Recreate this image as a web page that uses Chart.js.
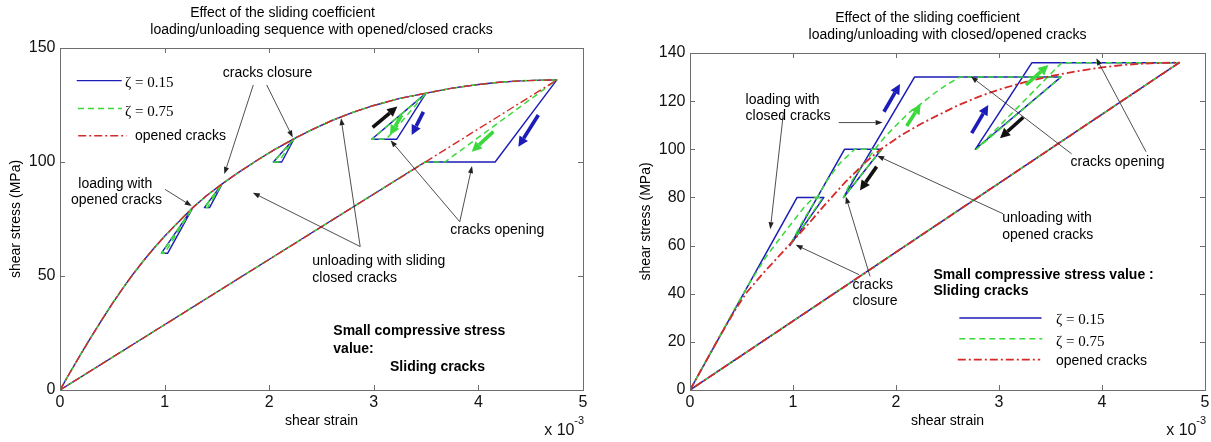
<!DOCTYPE html>
<html>
<head>
<meta charset="utf-8">
<script src="https://cdn.jsdelivr.net/npm/chart.js@4.4.1/dist/chart.umd.min.js"></script>
<style>
  html, body { margin: 0; padding: 0; background: #fff; }
  #wrap { position: relative; width: 1211px; height: 442px; background: #fff; }
  canvas { position: absolute; top: 0; }
  #left { left: 0; }
  #right { left: 600px; }
</style>
</head>
<body>
<div id="wrap">
  <canvas id="left" width="600" height="442"></canvas>
  <canvas id="right" width="611" height="442"></canvas>
</div>
<script>
// ticks (strain in 1e-3, stress in MPa)
const xTicks = [0, 1, 2, 3, 4, 5];
const leftYTicks = [0, 50, 100, 150];
const rightYTicks = [0, 20, 40, 60, 80, 100, 120, 140];

// left panel: loading/unloading sequence with opened/closed cracks
const leftBlueX = [0, 0.1, 0.2, 0.3, 0.4, 0.5, 0.6, 0.7, 0.8, 0.9, 1.0, 1.1, 1.27, 1.03, 0.97, 1.27, 1.4, 1.55, 1.43, 1.38, 1.55, 1.7, 1.9, 2.05, 2.24, 2.12, 2.04, 2.24, 2.4, 2.6, 2.8, 3.0, 3.25, 3.5, 3.22, 2.98, 3.5, 3.75, 4.0, 4.2, 4.4, 4.6, 4.75, 4.16, 3.49, 0];
const leftBlueY = [0, 8, 15.8, 23.4, 30.8, 37.9, 44.6, 50.9, 56.8, 62.3, 67.4, 72.2, 80, 60, 60, 80, 85.2, 90.4, 80, 80, 90.4, 95.2, 101.2, 105.4, 110.3, 100, 100, 110.3, 114, 118.2, 121.8, 124.8, 127.9, 130.2, 110, 110, 130.2, 132.4, 134, 135, 135.6, 135.9, 136, 100, 100, 0];
const leftGreenX = [0, 0.1, 0.2, 0.3, 0.4, 0.5, 0.6, 0.7, 0.8, 0.9, 1.0, 1.1, 1.27, 1.0, 0.97, 1.27, 1.4, 1.55, 1.41, 1.38, 1.55, 1.7, 1.9, 2.05, 2.24, 2.09, 2.04, 2.24, 2.4, 2.6, 2.8, 3.0, 3.25, 3.5, 3.12, 2.98, 3.5, 3.75, 4.0, 4.2, 4.4, 4.6, 4.75, 3.68, 3.49, 0];
const leftGreenY = [0, 8, 15.8, 23.4, 30.8, 37.9, 44.6, 50.9, 56.8, 62.3, 67.4, 72.2, 80, 60, 60, 80, 85.2, 90.4, 80, 80, 90.4, 95.2, 101.2, 105.4, 110.3, 100, 100, 110.3, 114, 118.2, 121.8, 124.8, 127.9, 130.2, 110, 110, 130.2, 132.4, 134, 135, 135.6, 135.9, 136, 100, 100, 0];
const leftRedX = [0, 0.1, 0.2, 0.3, 0.4, 0.5, 0.6, 0.7, 0.8, 0.9, 1.0, 1.1, 1.27, 1.4, 1.55, 1.7, 1.9, 2.05, 2.24, 2.4, 2.6, 2.8, 3.0, 3.25, 3.5, 3.75, 4.0, 4.2, 4.4, 4.6, 4.75, 0];
const leftRedY = [0, 8, 15.8, 23.4, 30.8, 37.9, 44.6, 50.9, 56.8, 62.3, 67.4, 72.2, 80, 85.2, 90.4, 95.2, 101.2, 105.4, 110.3, 114, 118.2, 121.8, 124.8, 127.9, 130.2, 132.4, 134, 135, 135.6, 135.9, 136, 0];

// right panel: loading/unloading with closed/opened cracks
const rightBlueX = [0, 1.04, 1.30, 0.97, 1.50, 1.86, 1.49, 2.18, 3.60, 2.77, 3.32, 4.75, 0];
const rightBlueY = [0, 80, 80, 60, 100, 100, 80, 130, 130, 100, 136, 136, 0];
const rightGreenX = [0, 0.45, 0.6, 0.75, 0.9, 1.0, 1.1, 1.2, 1.29, 0.97, 1.06, 1.15, 1.24, 1.33, 1.45, 1.6, 1.86, 1.49, 1.55, 1.62, 1.69, 1.76, 1.83, 1.9, 1.98, 2.05, 2.12, 2.2, 2.29, 2.38, 2.5, 2.62, 3.6, 2.78, 3.61, 4.75, 0];
const rightGreenY = [0, 35, 46, 56, 64.5, 70, 75.5, 80, 80, 60, 67.5, 74, 80.5, 87, 94, 100, 100, 80, 85.5, 90, 94, 98, 102, 105.5, 109, 112, 115, 117.5, 120.5, 123.5, 127, 130, 130, 100, 136, 136, 0];
const rightRedX = [0, 0.3, 0.45, 0.55, 0.7, 0.85, 1.0, 1.15, 1.3, 1.5, 1.7, 1.85, 2.05, 2.24, 2.4, 2.6, 2.8, 3.0, 3.25, 3.5, 3.75, 4.0, 4.2, 4.4, 4.6, 4.75, 0];
const rightRedY = [0, 23.1, 34, 40.5, 48, 55, 62, 69, 76.5, 86, 94.5, 100, 105.8, 110.5, 114, 118.2, 121.8, 124.8, 127.9, 130.4, 132.4, 134, 135, 135.6, 135.9, 136, 0];

const FONT = '"Liberation Sans", Arial, sans-serif';
const SERIF = '"Liberation Serif", "Times New Roman", serif';
const BLUE = '#1c1cb8';
const GREEN = '#3ad83a';
const RED = '#d42a2a';
const GREEN_DASH = [6, 4];
const RED_DASH = [8, 3, 2, 3];

// annotations, placed in data coordinates
const leftNotes = [
    { t: 'cracks closure', x: 1.556, y: 138.9 },
    { t: 'loading with', x: 0.175, y: 90.4 },
    { t: 'opened cracks', x: 0.105, y: 83.3 },
    { t: 'unloading with sliding', x: 2.412, y: 56.3 },
    { t: 'closed cracks', x: 2.412, y: 49.0 },
    { t: 'cracks opening', x: 3.73, y: 70.2 },
    { t: 'Small compressive stress', x: 2.613, y: 25.6, bold: true },
    { t: 'value:', x: 2.613, y: 17.8, bold: true },
    { t: 'Sliding cracks', x: 3.155, y: 10.2, bold: true }
];
const leftPointers = [
    [1.848, 133.8, 1.571, 94.7], [1.976, 133.8, 2.225, 110.8], [1.004, 88, 1.259, 80.7],
    [2.87, 62.9, 1.844, 86.5], [2.87, 62.9, 2.687, 119.2],
    [3.822, 73.8, 3.16, 109.5], [3.822, 73.8, 3.939, 98.2]
];
const leftBigArrows = [
    { c: '#111', p: [2.989, 115.2, 3.225, 124.3] },
    { c: GREEN, p: [3.267, 120.6, 3.155, 111.8] },
    { c: BLUE, p: [3.474, 122, 3.362, 111.8] },
    { c: GREEN, p: [4.143, 113.3, 3.936, 104.5] },
    { c: BLUE, p: [4.573, 120.6, 4.382, 106.7] }
];
const leftLegend = [
    { t: '\u03b6 = 0.15', x1: 0.16, x2: 0.59, y: 135.7, tx: 0.621, ty: 134.6, c: BLUE, w: 1.4, dash: [], serif: true },
    { t: '\u03b6 = 0.75', x1: 0.172, x2: 0.593, y: 123.5, tx: 0.621, ty: 121.9, c: GREEN, w: 1.5, dash: GREEN_DASH, serif: true },
    { t: 'opened cracks', x1: 0.174, x2: 0.637, y: 111.5, tx: 0.717, ty: 111.5, c: RED, w: 1.5, dash: RED_DASH }
];

const rightNotes = [
    { t: 'loading with', x: 0.54, y: 120.5 },
    { t: 'closed cracks', x: 0.54, y: 113.6 },
    { t: 'cracks', x: 1.577, y: 43.7 },
    { t: 'closure', x: 1.577, y: 36.8 },
    { t: 'unloading with', x: 3.032, y: 71.4 },
    { t: 'opened cracks', x: 3.032, y: 64.5 },
    { t: 'cracks opening', x: 3.694, y: 94.6 },
    { t: 'Small compressive stress value :', x: 2.364, y: 47.9, bold: true },
    { t: 'Sliding cracks', x: 2.364, y: 41.0, bold: true }
];
const rightPointers = [
    [1.444, 111.1, 1.87, 111.1], [0.905, 114.3, 0.78, 66.8],
    [1.642, 47.9, 1.026, 60.3], [1.748, 47.2, 1.513, 80.4],
    [3.04, 73.2, 1.817, 97.3],
    [3.705, 98.1, 2.728, 130.2], [4.427, 99, 3.945, 137.8]
];
const rightBigArrows = [
    { c: BLUE, p: [1.883, 115.6, 2.039, 127.1] },
    { c: GREEN, p: [2.104, 109.7, 2.24, 118.8] },
    { c: '#111', p: [1.812, 92.8, 1.65, 82.9] },
    { c: BLUE, p: [2.735, 106.7, 2.896, 118.4] },
    { c: '#111', p: [3.236, 113.3, 3.01, 104.6] },
    { c: GREEN, p: [3.262, 126.7, 3.479, 135] }
];
const rightLegend = [
    { t: '\u03b6 = 0.15', x1: 2.615, x2: 3.413, y: 29.9, tx: 3.553, ty: 28.9, c: BLUE, w: 1.5, dash: [], serif: true },
    { t: '\u03b6 = 0.75', x1: 2.615, x2: 3.42, y: 21.3, tx: 3.553, ty: 20.0, c: GREEN, w: 1.5, dash: GREEN_DASH, serif: true },
    { t: 'opened cracks', x1: 2.6, x2: 3.4, y: 12.6, tx: 3.553, ty: 11.9, c: RED, w: 1.8, dash: RED_DASH }
];

function points(xs, ys) {
    return xs.map((x, i) => ({ x: x, y: ys[i] }));
}

function lineSet(label, xs, ys, color, width, dash, order) {
    return {
        label: label,
        data: points(xs, ys),
        showLine: true,
        borderColor: color,
        borderWidth: width,
        borderDash: dash,
        borderJoinStyle: 'round',
        pointRadius: 0,
        fill: false,
        tension: 0,
        order: order
    };
}

function arrow(ctx, x1, y1, x2, y2, color, width, headLen, headHalf) {
    const a = Math.atan2(y2 - y1, x2 - x1);
    const bx = x2 - headLen * Math.cos(a);
    const by = y2 - headLen * Math.sin(a);
    ctx.strokeStyle = color;
    ctx.fillStyle = color;
    ctx.lineWidth = width;
    ctx.setLineDash([]);
    ctx.beginPath();
    ctx.moveTo(x1, y1);
    ctx.lineTo(bx, by);
    ctx.stroke();
    ctx.beginPath();
    ctx.moveTo(x2, y2);
    ctx.lineTo(bx + headHalf * Math.sin(a), by - headHalf * Math.cos(a));
    ctx.lineTo(bx - headHalf * Math.sin(a), by + headHalf * Math.cos(a));
    ctx.closePath();
    ctx.fill();
}

function decor(cfg) {
    return {
        id: 'decor',
        afterDatasetsDraw(chart) {
            const ctx = chart.ctx;
            const sx = chart.scales.x, sy = chart.scales.y;
            const X = v => sx.getPixelForValue(v);
            const Y = v => sy.getPixelForValue(v);
            ctx.save();
            // legend inside the axes
            cfg.legend.forEach(k => {
                ctx.strokeStyle = k.c;
                ctx.lineWidth = k.w;
                ctx.setLineDash(k.dash);
                ctx.beginPath();
                ctx.moveTo(X(k.x1), Y(k.y));
                ctx.lineTo(X(k.x2), Y(k.y));
                ctx.stroke();
                ctx.setLineDash([]);
                ctx.fillStyle = '#000';
                ctx.font = k.serif ? '15px ' + SERIF : '14px ' + FONT;
                ctx.textAlign = 'left';
                ctx.textBaseline = 'middle';
                ctx.fillText(k.t, X(k.tx), Y(k.ty));
            });
            // thin pointer arrows
            cfg.pointers.forEach(p => {
                arrow(ctx, X(p[0]), Y(p[1]), X(p[2]), Y(p[3]), '#222', 0.8, 7, 2.6);
            });
            // thick direction arrows
            cfg.bigArrows.forEach(b => {
                arrow(ctx, X(b.p[0]), Y(b.p[1]), X(b.p[2]), Y(b.p[3]), b.c, 3.6, 10, 5);
            });
            // notes
            ctx.fillStyle = '#000';
            ctx.textAlign = 'left';
            ctx.textBaseline = 'middle';
            cfg.notes.forEach(n => {
                ctx.font = (n.bold ? 'bold ' : '') + '14px ' + FONT;
                ctx.fillText(n.t, X(n.x), Y(n.y));
            });
            ctx.restore();
        },
        afterDraw(chart) {
            const ctx = chart.ctx;
            const a = chart.chartArea;
            const sx = chart.scales.x, sy = chart.scales.y;
            ctx.save();
            // axes box and inward ticks
            ctx.strokeStyle = '#6e6e6e';
            ctx.lineWidth = 1;
            ctx.setLineDash([]);
            ctx.strokeRect(Math.round(a.left) + 0.5, Math.round(a.top) + 0.5,
                Math.round(a.right - a.left), Math.round(a.bottom - a.top));
            ctx.beginPath();
            xTicks.forEach(v => {
                const p = Math.round(sx.getPixelForValue(v)) + 0.5;
                ctx.moveTo(p, a.bottom); ctx.lineTo(p, a.bottom - 5);
                ctx.moveTo(p, a.top); ctx.lineTo(p, a.top + 5);
            });
            cfg.yTicks.forEach(v => {
                const p = Math.round(sy.getPixelForValue(v)) + 0.5;
                ctx.moveTo(a.left, p); ctx.lineTo(a.left + 5, p);
                ctx.moveTo(a.right, p); ctx.lineTo(a.right - 5, p);
            });
            ctx.stroke();
            // tick labels
            ctx.fillStyle = '#111';
            ctx.font = '16px ' + FONT;
            ctx.textBaseline = 'middle';
            ctx.textAlign = 'center';
            xTicks.forEach(v => ctx.fillText(String(v), sx.getPixelForValue(v), a.bottom + 13));
            ctx.textAlign = 'right';
            cfg.yTicks.forEach(v => ctx.fillText(String(v), a.left - 4.5, sy.getPixelForValue(v)));
            // exponent
            ctx.font = '11px ' + FONT;
            ctx.fillText('-3', a.right + 1, a.bottom + 31);
            ctx.font = '16px ' + FONT;
            ctx.fillText('x 10', a.right - 8.5, a.bottom + 41);
            // axis titles
            ctx.fillStyle = '#000';
            ctx.font = '14px ' + FONT;
            ctx.textAlign = 'center';
            ctx.fillText('shear strain', (a.left + a.right) / 2, a.bottom + 30.7);
            ctx.save();
            ctx.translate(a.left - 44, (a.top + a.bottom) / 2);
            ctx.rotate(-Math.PI / 2);
            ctx.fillText('shear stress (MPa)', 0, 0);
            ctx.restore();
            // title
            ctx.fillText(cfg.title[0], (a.left + a.right) / 2 + cfg.titleShift, a.top - 34.7);
            ctx.fillText(cfg.title[1], (a.left + a.right) / 2, a.top - 18);
            ctx.restore();
        }
    };
}

function makeChart(id, datasets, yMax, padding, cfg) {
    return new Chart(document.getElementById(id), {
        type: 'scatter',
        data: { datasets: datasets },
        options: {
            responsive: false,
            animation: false,
            events: [],
            layout: { padding: padding },
            plugins: {
                legend: { display: false },
                tooltip: { enabled: false },
                title: { display: false }
            },
            scales: {
                x: { type: 'linear', min: 0, max: 5, display: false },
                y: { type: 'linear', min: 0, max: yMax, display: false }
            }
        },
        plugins: [decor(cfg)]
    });
}

makeChart('left', [
    lineSet('\u03b6 = 0.15', leftBlueX, leftBlueY, BLUE, 1.4, [], 3),
    lineSet('\u03b6 = 0.75', leftGreenX, leftGreenY, GREEN, 1.5, GREEN_DASH, 2),
    lineSet('opened cracks', leftRedX, leftRedY, RED, 1.4, RED_DASH, 1)
], 150, { left: 60, top: 48, right: 17, bottom: 52 }, {
    yTicks: leftYTicks,
    title: ['Effect of the sliding coefficient', 'loading/unloading sequence with opened/closed cracks'],
    titleShift: -39,
    notes: leftNotes,
    pointers: leftPointers,
    bigArrows: leftBigArrows,
    legend: leftLegend
});

makeChart('right', [
    lineSet('\u03b6 = 0.15', rightBlueX, rightBlueY, BLUE, 1.5, [], 3),
    lineSet('\u03b6 = 0.75', rightGreenX, rightGreenY, GREEN, 1.5, GREEN_DASH, 2),
    lineSet('opened cracks', rightRedX, rightRedY, RED, 1.8, RED_DASH, 1)
], 140, { left: 90, top: 53, right: 6, bottom: 52 }, {
    yTicks: rightYTicks,
    title: ['Effect of the sliding coefficient', 'loading/unloading with closed/opened cracks'],
    titleShift: -20,
    notes: rightNotes,
    pointers: rightPointers,
    bigArrows: rightBigArrows,
    legend: rightLegend
});
</script>
</body>
</html>
